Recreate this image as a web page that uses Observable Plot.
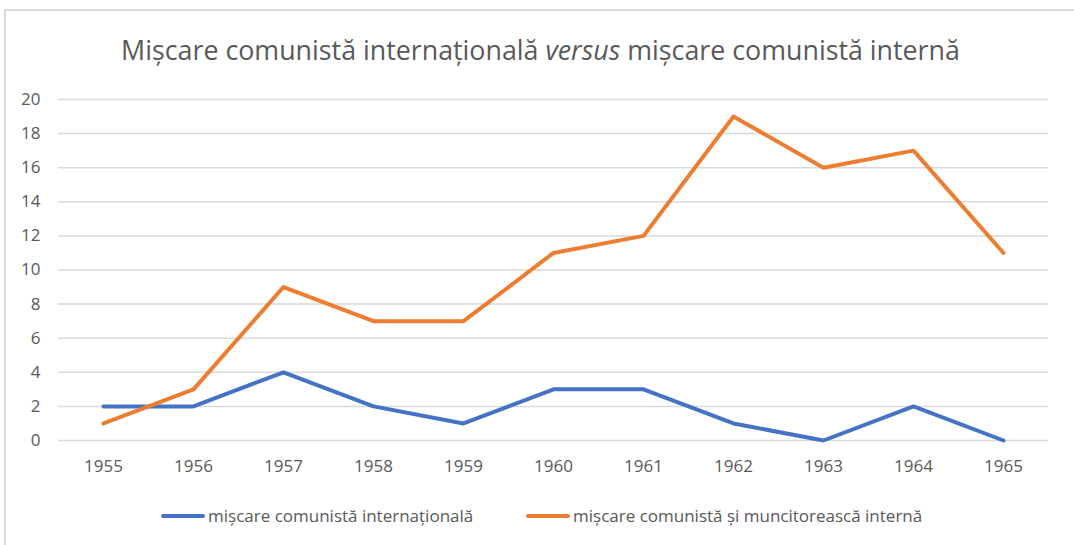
<!DOCTYPE html>
<html>
<head>
<meta charset="utf-8">
<script src="https://cdn.jsdelivr.net/npm/d3@7"></script>
<script src="https://cdn.jsdelivr.net/npm/@observablehq/plot@0.6"></script>
<style>
  html, body { margin: 0; padding: 0; background: #fff; }
  #wrap { position: relative; width: 1074px; height: 545px; overflow: hidden; font-family: "Open Sans", sans-serif; }
  #frame { position: absolute; left: 4px; top: 9px; width: 1200px; height: 600px; border-left: 2px solid #d9d9d9; border-top: 2px solid #d9d9d9; box-sizing: border-box; }
  #title { position: absolute; left: 0; top: 31px; width: 1081px; text-align: center; font-size: 26.8px; color: #595959; white-space: nowrap; }
  #chart { position: absolute; left: 0; top: 79px; }
  .leg { position: absolute; top: 504px; font-size: 17px; color: #595959; white-space: nowrap; display: flex; align-items: center; }
  .leg span.sw { display: inline-block; width: 44px; height: 4px; border-radius: 2px; margin-right: 3px; }
</style>
</head>
<body>
<div id="wrap">
  <div id="frame"></div>
  <div id="title">Mișcare comunistă internațională <i>versus</i> mișcare comunistă internă</div>
  <div id="chart"></div>
  <div class="leg" style="left:161px"><span class="sw" style="background:#4472C4"></span>mișcare comunistă internațională</div>
  <div class="leg" style="left:526px"><span class="sw" style="background:#ED7D31"></span>mișcare comunistă și muncitorească internă</div>
</div>
<script>
const years = [1955, 1956, 1957, 1958, 1959, 1960, 1961, 1962, 1963, 1964, 1965];
const international = [2, 2, 4, 2, 1, 3, 3, 1, 0, 2, 0];
const intern = [1, 3, 9, 7, 7, 11, 12, 19, 16, 17, 11];
const seriesNames = ["mișcare comunistă internațională", "mișcare comunistă și muncitorească internă"];
const colors = ["#4472C4", "#ED7D31"];
const yTicks = [0, 2, 4, 6, 8, 10, 12, 14, 16, 18, 20];

const data = [];
years.forEach((y, i) => {
  data.push({year: String(y), value: international[i], series: seriesNames[0]});
  data.push({year: String(y), value: intern[i], series: seriesNames[1]});
});

const plot = Plot.plot({
  width: 1074,
  height: 401,
  marginLeft: 58,
  marginRight: 26,
  marginTop: 20,
  marginBottom: 40,
  style: {fontFamily: "Open Sans, sans-serif", fontSize: "17px", color: "#595959", background: "transparent"},
  x: {type: "point", domain: years.map(String), padding: 0.5, label: null},
  y: {domain: [0, 20], ticks: yTicks, label: null},
  color: {domain: seriesNames, range: colors},
  marks: [
    Plot.ruleY(yTicks, {stroke: "#d9d9d9", strokeWidth: 1.5}),
    Plot.axisX({tickSize: 0, tickPadding: 19, fill: "#595959"}),
    Plot.axisY({ticks: yTicks, tickSize: 0, tickPadding: 18, fill: "#595959"}),
    Plot.line(data, {x: "year", y: "value", z: "series", stroke: "series", strokeWidth: 4, strokeLinecap: "round", strokeLinejoin: "round"})
  ]
});
document.getElementById("chart").appendChild(plot);
</script>
</body>
</html>
